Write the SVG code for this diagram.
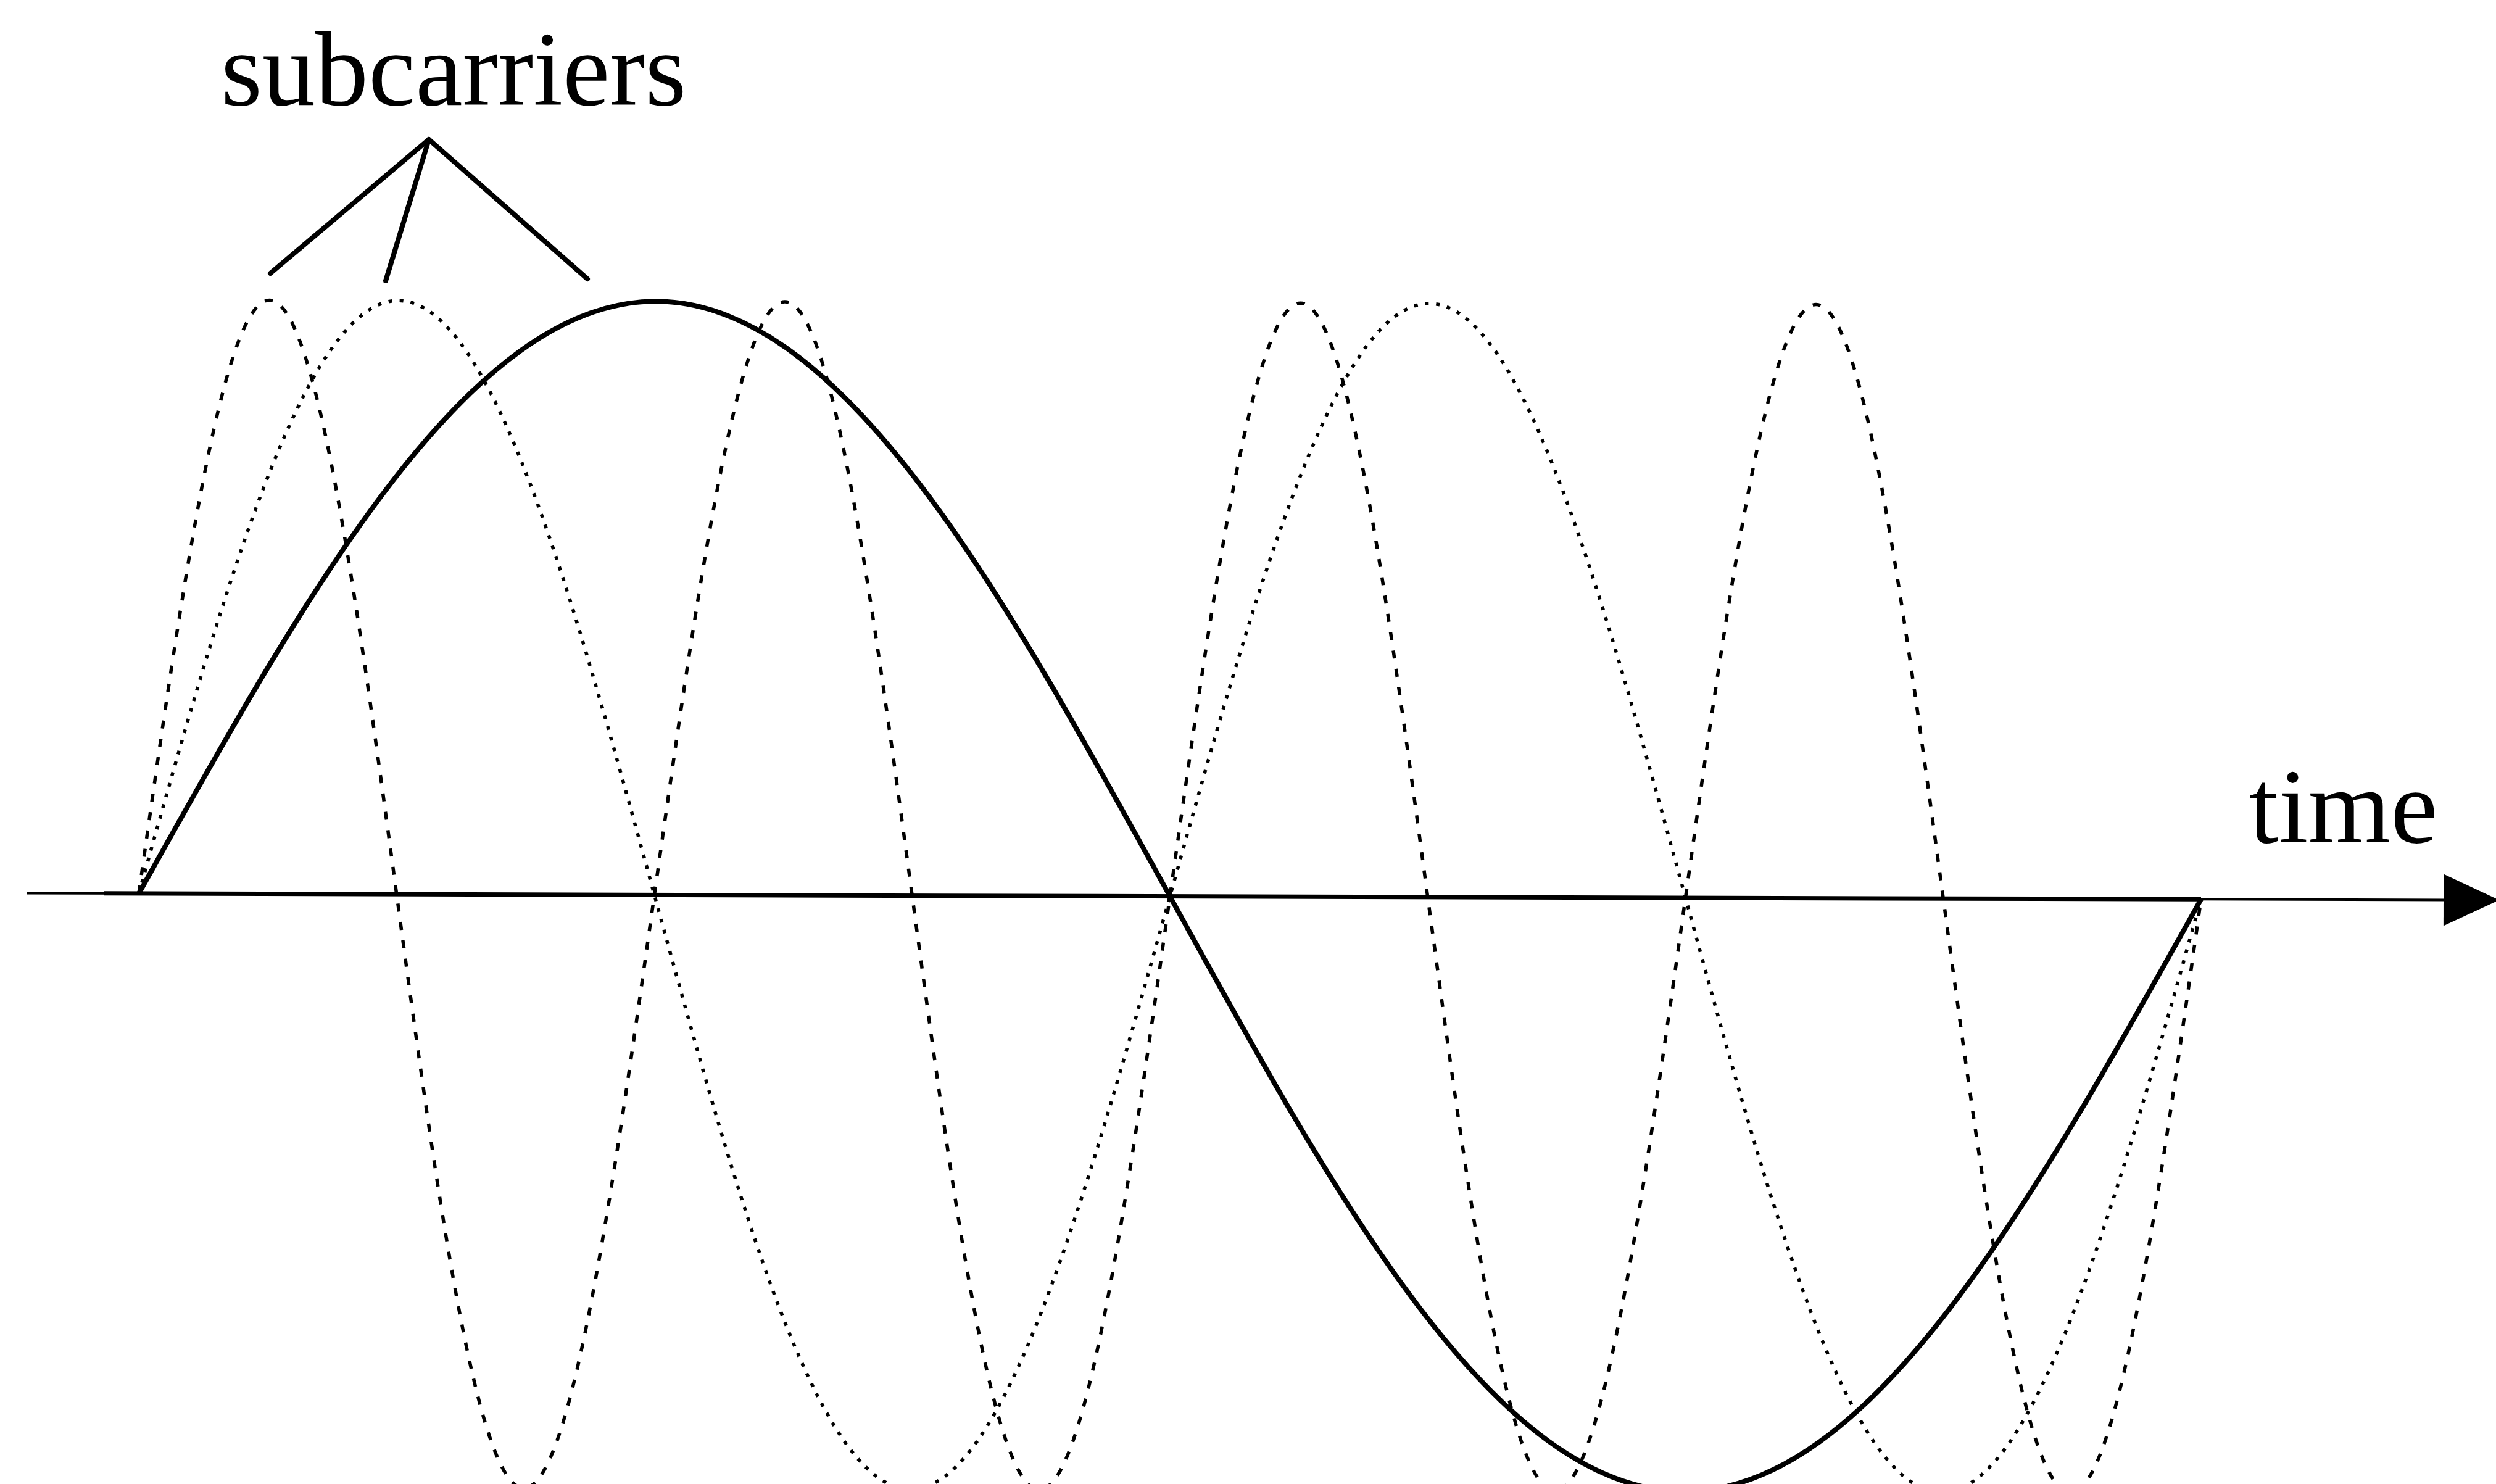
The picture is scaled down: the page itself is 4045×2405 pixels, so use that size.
<svg xmlns="http://www.w3.org/2000/svg" width="4045" height="2405" viewBox="0 0 4045 2405">
  <style>
    .lbl { font-family: "Liberation Serif", "Times New Roman", serif; font-size: 172px; fill: #000; }
    .solid { fill: none; stroke: #000; stroke-width: 8; stroke-linejoin: round; }
    .dashed { fill: none; stroke: #000; stroke-width: 5.5; stroke-dasharray: 13 17; }
    .dotted { fill: none; stroke: #000; stroke-width: 5.5; stroke-dasharray: 6 12; }
    .pointer { fill: none; stroke: #000; stroke-width: 8; stroke-linecap: round; }
    .axis { fill: none; stroke: #000; }
  </style>
  <rect x="0" y="0" width="4045" height="2405" fill="#fff"/>
  <g id="plot" transform="rotate(0.16 225 1448)">
    <g id="axis">
      <line class="axis" x1="43" y1="1448" x2="3965" y2="1448" stroke-width="4"/>
      <line class="axis" x1="168" y1="1448" x2="3567" y2="1448" stroke-width="7"/>
      <polygon points="3960,1406 4050,1448 3960,1490" fill="#000"/>
    </g>
    <g id="subcarrier-1-cycle">
      <path class="solid" d="M225,1448 c 272.5,-492.8 533.1,-962 835.5,-962 c 302.4,0 563.0,469.2 835.5,962 c 272.5,492.8 533.1,962 835.5,962 c 302.4,0 563.0,-469.2 835.5,-962"/>
    </g>
    <g id="subcarrier-2-cycles">
      <path class="dotted" d="M225,1448 c 136.2,-492.8 266.6,-962 417.75,-962 c 151.2,0 281.5,469.2 417.75,962 c 136.2,492.8 266.6,962 417.75,962 c 151.2,0 281.5,-469.2 417.75,-962 c 136.2,-492.8 266.6,-962 417.75,-962 c 151.2,0 281.5,469.2 417.75,962 c 136.2,492.8 266.6,962 417.75,962 c 151.2,0 281.5,-469.2 417.75,-962"/>
    </g>
    <g id="subcarrier-4-cycles">
      <path class="dashed" d="M225,1448 c 68.1,-492.8 133.3,-962 208.875,-962 c 75.6,0 140.8,469.2 208.875,962 c 68.1,492.8 133.3,962 208.875,962 c 75.6,0 140.8,-469.2 208.875,-962 c 68.1,-492.8 133.3,-962 208.875,-962 c 75.6,0 140.8,469.2 208.875,962 c 68.1,492.8 133.3,962 208.875,962 c 75.6,0 140.8,-469.2 208.875,-962 c 68.1,-492.8 133.3,-962 208.875,-962 c 75.6,0 140.8,469.2 208.875,962 c 68.1,492.8 133.3,962 208.875,962 c 75.6,0 140.8,-469.2 208.875,-962 c 68.1,-492.8 133.3,-962 208.875,-962 c 75.6,0 140.8,469.2 208.875,962 c 68.1,492.8 133.3,962 208.875,962 c 75.6,0 140.8,-469.2 208.875,-962"/>
    </g>
  </g>
  <g id="label-subcarriers">
    <text class="lbl" x="358" y="170">subcarriers</text>
  </g>
  <g id="label-time">
    <text class="lbl" x="3645" y="1365" font-size="170">time</text>
  </g>
  <g id="connectors">
    <line class="pointer" x1="695" y1="226" x2="438" y2="443"/>
    <line class="pointer" x1="695" y1="226" x2="625" y2="455"/>
    <line class="pointer" x1="695" y1="226" x2="952" y2="452"/>
  </g>
</svg>
